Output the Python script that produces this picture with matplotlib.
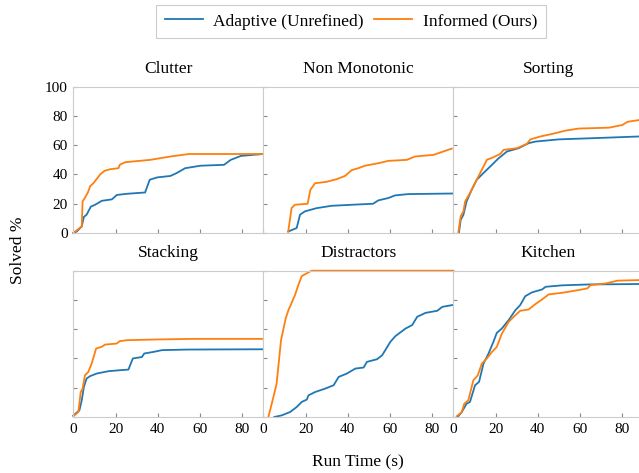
import numpy as np
import matplotlib
matplotlib.use("Agg")
import matplotlib.pyplot as plt

plt.rcParams['font.family'] = ['Liberation Serif', 'DejaVu Serif']

titles = ["Clutter", "Non Monotonic", "Sorting", "Stacking", "Distractors", "Kitchen"]
labels = ["Adaptive (Unrefined)", "Informed (Ours)"]

# (time, solved %)
clutter_ada_t = [0, 1.6, 4, 5, 6.3, 8.3, 10.3, 13.5, 18.3, 20.6, 25.4, 34, 36.2, 39.7, 46, 49, 53, 60.3, 71.4, 74.6, 79.4, 90]
clutter_ada_v = [0, 1, 4.5, 11, 12.5, 18, 19.3, 22, 23, 26, 26.8, 27.7, 36.4, 38, 39, 41, 44.3, 46, 46.6, 50, 52.7, 54]
clutter_inf_t = [0, 4, 4.4, 5.5, 7, 8, 9.5, 11.4, 12.7, 14.8, 17.5, 21.4, 22, 24.6, 36.5, 46, 54.8, 90]
clutter_inf_v = [0, 4.5, 21.6, 24, 28, 32, 34, 37.5, 40, 42.5, 43.6, 44.3, 46.6, 48.4, 50, 52.3, 54, 54]

nonmono_ada_t = [11.8, 15.8, 17.4, 19.7, 25.3, 32.4, 41.9, 52, 54.5, 59.2, 62.4, 68.7, 90]
nonmono_ada_v = [1, 3.4, 12.5, 14.8, 17, 18.6, 19.3, 20, 22.3, 23.9, 25.7, 26.6, 27]
nonmono_inf_t = [11.8, 13.4, 15, 21, 22.3, 24.5, 30, 34.8, 38.7, 41.9, 45, 48.2, 54.5, 59.2, 68, 71.9, 80.6, 89.3]
nonmono_inf_v = [1, 17, 19.3, 20, 29.5, 34, 35, 36.8, 39, 43, 44.3, 46, 47.7, 49.3, 50, 52.3, 53.4, 57.7]

sorting_ada_t = [2.7, 3.5, 4.8, 6.3, 8.7, 11.1, 14.3, 18.3, 21.4, 25.4, 31, 35.7, 38.9, 50, 65.9, 88.4]
sorting_ada_v = [0.5, 9, 12.5, 21.6, 29.5, 36.4, 41, 46.6, 51, 55.7, 58, 61.4, 62.5, 64, 64.8, 66]
sorting_inf_t = [2.4, 3.5, 4.8, 5.6, 7.9, 11.1, 13.5, 15.9, 19, 22.2, 23.8, 30.2, 34.9, 36.5, 41.3, 46.8, 53.2, 59.5, 73.8, 80.2, 82.5, 88.4]
sorting_inf_v = [0.5, 11.4, 14.8, 21.6, 27.3, 36.4, 43.2, 50, 51.8, 54, 56.8, 58, 61, 64, 66, 67.7, 70, 71.4, 72, 73.9, 76, 77.3]

stacking_ada_t = [0, 2.9, 4, 5, 6.3, 7.9, 11.1, 16.6, 22.2, 26.1, 28.2, 32.5, 33.6, 38, 42, 53.9, 90]
stacking_ada_v = [1, 4.6, 11.4, 20.5, 26.3, 27.9, 29.7, 31.3, 32, 32.4, 40, 41, 43.4, 44.5, 45.7, 46.1, 46.3]
stacking_inf_t = [0, 2.4, 3.5, 4.4, 5.5, 7.1, 8.7, 10.8, 13.5, 15, 20.6, 21.9, 25.4, 39.6, 57, 90]
stacking_inf_v = [0.5, 3.4, 17, 19.4, 28.5, 30.8, 36.5, 46.8, 48, 49.5, 50.2, 51.8, 52.5, 53, 53.4, 53.4]

distract_ada_t = [5.2, 8.7, 12.7, 15.8, 18.2, 20.6, 21.4, 24.6, 29.3, 33.3, 35.7, 39.6, 43.6, 47.5, 49.1, 53.9, 56.3, 60.2, 62.6, 67.4, 70.5, 72.9, 76.9, 82.4, 84.8, 89.5]
distract_ada_v = [0, 1.1, 3.4, 6.8, 10.3, 11.9, 14.8, 17.1, 19.4, 21.7, 27.4, 29.7, 33.1, 33.8, 37.7, 39.5, 42.2, 51.4, 55.3, 60.5, 62.8, 68.5, 71.2, 72.6, 75.3, 76.5]
distract_inf_t = [2.4, 4.8, 6.3, 8.4, 10.6, 11.9, 15, 16.6, 18.2, 20.6, 22.2, 23, 90]
distract_inf_v = [0, 13.7, 22.8, 52.5, 67.4, 73, 83.3, 90.2, 96.3, 98.2, 99.5, 100, 100]

kitchen_ada_t = [2, 4, 6.3, 7.9, 10.3, 12.2, 14.3, 16.7, 19, 20.6, 23, 26.2, 29.4, 31.7, 34.1, 37.3, 42.1, 43.7, 51.6, 64.3, 88]
kitchen_ada_v = [0, 3.4, 9.1, 10.3, 21.7, 24, 36.5, 43.4, 51.4, 57.5, 60.5, 66.2, 73, 76.5, 82.6, 85.2, 87.2, 89, 90, 90.6, 90.9]
kitchen_inf_t = [1.6, 4, 5.2, 7.1, 9.5, 11.6, 13.5, 15.9, 18.3, 20.6, 23, 26.2, 28.6, 31.7, 35.7, 38.9, 42.1, 45.2, 51.6, 59.5, 63.5, 65.1, 72.2, 77.8, 88.4]
kitchen_inf_v = [0.5, 3.4, 9.1, 11.4, 25.1, 28.5, 36.5, 40, 44.5, 47.9, 57, 65, 68.5, 72.6, 73.5, 77.2, 80.4, 83.8, 84.9, 86.8, 87.9, 90.2, 91.3, 93.2, 93.6]

data = [
    (clutter_ada_t, clutter_ada_v, clutter_inf_t, clutter_inf_v),
    (nonmono_ada_t, nonmono_ada_v, nonmono_inf_t, nonmono_inf_v),
    (sorting_ada_t, sorting_ada_v, sorting_inf_t, sorting_inf_v),
    (stacking_ada_t, stacking_ada_v, stacking_inf_t, stacking_inf_v),
    (distract_ada_t, distract_ada_v, distract_inf_t, distract_inf_v),
    (kitchen_ada_t, kitchen_ada_v, kitchen_inf_t, kitchen_inf_v),
]

W, H = 639, 473
fig = plt.figure(figsize=(W/100, H/100), dpi=100)

lefts = [73.3, 263.3, 453.3]
tops = [86.7, 270.7]
aw, ah = 190.0, 146.3
grid = "#cccccc"

handles = None
for k in range(6):
    r, c = divmod(k, 3)
    ax = fig.add_axes([lefts[c]/W, 1 - (tops[r]+ah)/H, aw/W, ah/H])
    at, av, it, iv = data[k]
    h1, = ax.plot(at, av, color="#1f77b4", lw=1.3, label=labels[0], clip_on=False)
    h2, = ax.plot(it, iv, color="#ff7f0e", lw=1.3, label=labels[1], clip_on=False)
    handles = [h1, h2]
    ax.set_xlim(0, 90)
    ax.set_ylim(0, 100)
    ax.set_xticks([0, 20, 40, 60, 80])
    ax.set_yticks([0, 20, 40, 60, 80, 100])
    ax.tick_params(direction="in", length=3, color="#888888", labelsize=11, pad=4)
    for s in ax.spines.values():
        s.set_color(grid)
    if r == 0:
        ax.tick_params(labelbottom=False)
    if not (r == 0 and c == 0):
        ax.tick_params(labelleft=False)
    ax.set_title(titles[k], fontsize=12.5, pad=10)

fig.text(18/W, 1 - 250/H, "Solved %", rotation=90, ha="center", va="center", fontsize=12.5)
fig.text(358/W, 1 - 462/H, "Run Time (s)", ha="center", va="center", fontsize=12.5)

leg = fig.legend(handles, labels, loc="center", bbox_to_anchor=(351/W, 1 - 21.5/H), ncol=2,
                 fontsize=12.5, fancybox=False, edgecolor=grid, framealpha=1,
                 handlelength=2.2, columnspacing=0.6, handletextpad=0.6, borderpad=0.5)
leg.get_frame().set_linewidth(0.8)

fig.savefig("out.png", dpi=100)
